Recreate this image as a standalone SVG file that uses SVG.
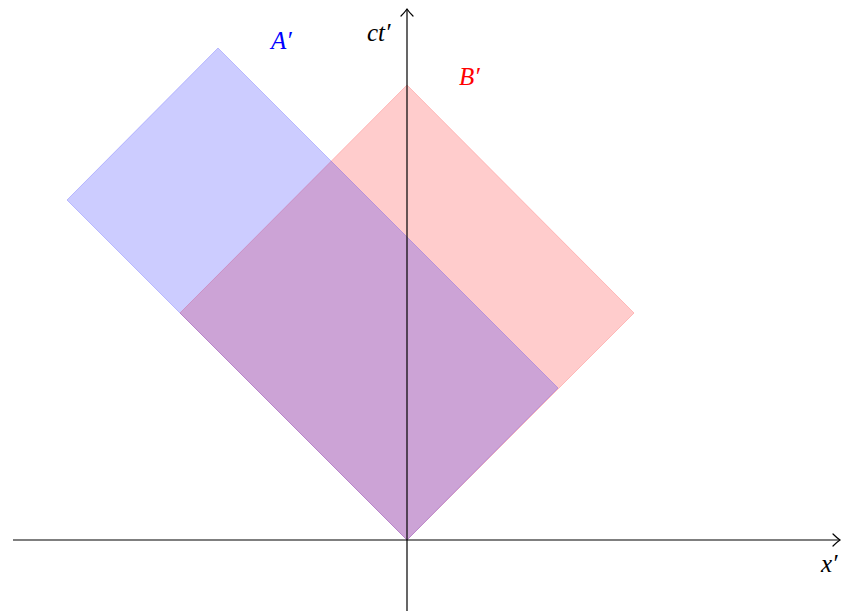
<svg xmlns="http://www.w3.org/2000/svg" width="843" height="611" viewBox="0 0 843 611">
<style>
.lbl{font-family:"Liberation Serif","DejaVu Serif",serif;font-style:italic;font-size:25px}
.ax{stroke:#000;stroke-width:1.2;fill:none}
</style>
<defs>
<marker id="arr" markerWidth="12" markerHeight="14" refX="9" refY="7" orient="auto" markerUnits="userSpaceOnUse">
<path d="M2,1 Q6,5 9,7 Q6,9 2,13" fill="none" stroke="#000" stroke-width="1.2" stroke-linecap="round"/>
</marker>
</defs>
<rect width="843" height="611" fill="#fff"/>
<g id="regionB">
<polygon points="407,85 634,313 407,540 180,313" fill="#f00" fill-opacity="0.2" stroke="#f00" stroke-opacity="0.2" stroke-width="1"/>
</g>
<g id="regionA">
<polygon points="218,48 558,388 407,540 67,200" fill="#00f" fill-opacity="0.2" stroke="#00f" stroke-opacity="0.2" stroke-width="1"/>
</g>
<g id="axes">
<line class="ax" x1="13" y1="540" x2="840" y2="540" marker-end="url(#arr)"/>
<line class="ax" x1="407" y1="611" x2="407" y2="9" marker-end="url(#arr)"/>
</g>
<g id="labels">
<text class="lbl" x="821" y="572">x′</text>
<text class="lbl" x="367" y="41">ct′</text>
<text class="lbl" x="271" y="49" fill="#00f">A′</text>
<text class="lbl" x="459" y="85" fill="#f00">B′</text>
</g>
</svg>
